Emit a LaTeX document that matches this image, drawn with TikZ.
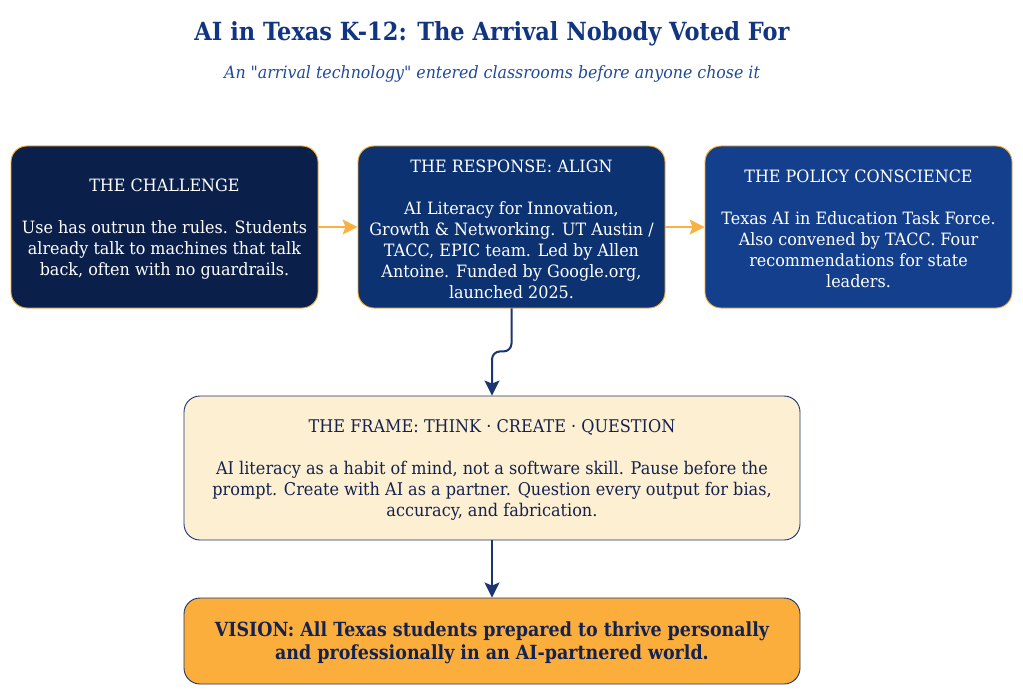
\documentclass[tikz,border=0pt]{standalone}
\usepackage{fontspec}
\setmainfont{DejaVu Serif}
\newfontfamily\bodyfont[FakeStretch=0.94]{DejaVu Serif}
\newfontfamily\titlefont[FakeStretch=0.9]{DejaVu Serif}
\newfontfamily\subfont[FakeStretch=0.93]{DejaVu Serif}
\newfontfamily\framefont[FakeStretch=0.92]{DejaVu Serif}
\newfontfamily\visionfont[FakeStretch=0.895]{DejaVu Serif}
\usetikzlibrary{arrows.meta}
\definecolor{navyA}{HTML}{0B1F4B}
\definecolor{navyB}{HTML}{0C3272}
\definecolor{navyC}{HTML}{143F8C}
\definecolor{edgeorange}{HTML}{F5A623}
\definecolor{arroworange}{HTML}{FBB040}
\definecolor{cream}{HTML}{FDEFD1}
\definecolor{visionorange}{HTML}{FBAE3C}
\definecolor{framenavy}{HTML}{1B3570}
\definecolor{titleblue}{HTML}{113580}
\definecolor{subblue}{HTML}{1F4A9A}
\definecolor{darktext}{HTML}{14224F}
\newcommand\pushdown{\rule{0pt}{17pt}}
\begin{document}
\begin{tikzpicture}[x=1pt,y=-1pt,
  topbox/.style={draw=edgeorange, line width=0.9pt, rounded corners=16pt,
    minimum width=307pt, minimum height=162pt, text=white, align=center,
    font=\bodyfont\fontsize{17}{21}\selectfont, inner sep=0pt},
  midbox/.style={draw=framenavy, line width=0.9pt, rounded corners=16pt,
    minimum width=616pt, align=center, inner sep=0pt},
  orangearrow/.style={draw=arroworange, line width=2pt, -{Stealth[length=15pt,width=15pt,inset=3pt]}},
  navyarrow/.style={draw=framenavy, line width=2pt, -{Stealth[length=15pt,width=15pt,inset=3pt]}},
]
\useasboundingbox (0,0) rectangle (1023,695);
\fill[white] (0,0) rectangle (1023,695);

\node[font=\titlefont\bfseries\fontsize{25}{30}\selectfont, text=titleblue] (title) at (492,34)
  {AI in Texas K-12: The Arrival Nobody Voted For};
\node[font=\subfont\itshape\fontsize{17}{20}\selectfont, text=subblue] (subtitle) at (492,74)
  {An "arrival technology" entered classrooms before anyone chose it};

\node[topbox, fill=navyA] (challenge) at (164.5,227)
  {\pushdown THE CHALLENGE\\[21pt]Use has outrun the rules. Students\\already talk to machines that talk\\back, often with no guardrails.};
\node[topbox, fill=navyB] (response) at (511.5,227)
  {\pushdown THE RESPONSE: ALIGN\\[21pt]AI Literacy for Innovation,\\Growth \& Networking. UT Austin /\\TACC, EPIC team. Led by Allen\\Antoine. Funded by Google.org,\\launched 2025.};
\node[topbox, fill=navyC] (policy) at (858.5,227)
  {\pushdown THE POLICY CONSCIENCE\\[21pt]Texas AI in Education Task Force.\\Also convened by TACC. Four\\recommendations for state\\leaders.};

\node[midbox, fill=cream, minimum height=144pt, text=darktext,
  font=\framefont\fontsize{17.5}{21}\selectfont] (frame) at (492,468)
  {\pushdown THE FRAME: THINK \textperiodcentered{} CREATE \textperiodcentered{} QUESTION\\[21pt]AI literacy as a habit of mind, not a software skill. Pause before the\\prompt. Create with AI as a partner. Question every output for bias,\\accuracy, and fabrication.};

\node[midbox, fill=visionorange, minimum height=86pt, text=darktext,
  font=\visionfont\bfseries\fontsize{19.5}{23}\selectfont] (vision) at (492,641)
  {\rule{0pt}{19pt}VISION: All Texas students prepared to thrive personally\\and professionally in an AI-partnered world.};

\draw[orangearrow] (challenge.east) -- (response.west);
\draw[orangearrow] (response.east) -- (policy.west);
\draw[navyarrow, rounded corners=8pt] (response.south) -- ++(0,43) -| (frame.north);
\draw[navyarrow] (frame.south) -- (vision.north);
\end{tikzpicture}
\end{document}
